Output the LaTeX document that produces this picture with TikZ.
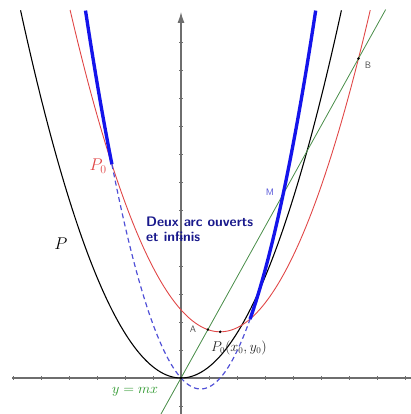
\documentclass[tikz,border=0pt]{standalone}
\usepackage{fontspec}
\usetikzlibrary{arrows.meta}
\definecolor{redc}{RGB}{225,70,70}
\definecolor{greenc}{RGB}{70,140,70}
\definecolor{greentext}{RGB}{40,150,40}
\definecolor{bluec}{RGB}{20,20,235}
\definecolor{bluedash}{RGB}{80,80,215}
\definecolor{navyc}{RGB}{25,25,140}
\definecolor{axisc}{RGB}{110,110,110}
\begin{document}
\begin{tikzpicture}[x=1cm,y=1cm,
  axisline/.style={draw=axisc,line width=1.1pt},
  tick/.style={draw=axisc,line width=0.7pt},
  curveP/.style={draw=black,line width=1.1pt},
  curvePzero/.style={draw=redc,line width=0.9pt},
  droite/.style={draw=greenc,line width=0.8pt},
  locthick/.style={draw=bluec,line width=3.4pt},
  locdash/.style={draw=bluedash,line width=1.2pt,dash pattern=on 5pt off 3.5pt},
  dot/.style={circle,fill=black,inner sep=0pt,minimum size=3pt},
  ptlabel/.style={font=\sffamily\fontsize{9.5}{11}\selectfont,text=black!70,inner sep=0pt}
]
\useasboundingbox (-6.464,-1.286) rectangle (8.214,13.5);
\fill[white] (-6.464,-1.286) rectangle (8.214,13.5);
% axes
\coordinate (xl) at (-6.04,0);
\coordinate (xr) at (8.214,0);
\coordinate (yb) at (0,-1.286);
\coordinate (yt) at (0,13.07);
\draw[axisline] (xl) -- (xr);
\draw[axisline,-{Latex[length=11pt,width=7pt]}] (yb) -- (yt);
\foreach \i in {-6,...,8} \draw[tick] (\i,-0.07) -- (\i,0.07);
\foreach \j in {-1,...,12} \draw[tick] (-0.07,\j) -- (0.07,\j);
% curves
\draw[curveP] plot[domain=-5.73:5.73,samples=200,smooth] (\x,{0.4*\x*\x});
\draw[curvePzero] plot[domain=-3.96:6.76,samples=200,smooth] (\x,{0.4*(\x-1.4)*(\x-1.4)+1.65});
\coordinate (gb) at (-0.714,-1.286);
\coordinate (gt) at (7.31,13.158);
\draw[droite] (gb) -- (gt);
\draw[locdash] plot[domain=-2.467:2.467,samples=150,smooth] (\x,{0.8*\x*(\x-1.4)});
\draw[locthick] plot[domain=-3.41:-2.467,samples=60,smooth] (\x,{0.8*\x*(\x-1.4)});
\draw[locthick] plot[domain=2.467:4.81,samples=100,smooth] (\x,{0.8*\x*(\x-1.4)});
% points
\node[dot] (O) at (0,0) {};
\node[dot] (A) at (0.96,1.728) {};
\node[dot] (Pz) at (1.4,1.65) {};
\node[dot] (B) at (6.34,11.41) {};
% labels
\node[ptlabel] (lA) at (0.43,1.75) {A};
\node[ptlabel] (lB) at (6.68,11.18) {B};
\node[ptlabel,text=bluedash] (lM) at (3.18,6.64) {M};
\node[inner sep=0pt,text=black!85,font=\fontsize{13.5}{16}\selectfont] (lPz) at (2.07,1.07) {$P_0(x_0,y_0)$};
\node[inner sep=0pt,text=redc,font=\fontsize{17}{20}\selectfont] (lPzero) at (-2.96,7.57) {$P_0$};
\node[inner sep=0pt,font=\fontsize{16}{19}\selectfont] (lP) at (-4.29,4.79) {$P$};
\node[inner sep=0pt,text=greentext,font=\fontsize{15}{18}\selectfont] (lD) at (-1.64,-0.5) {$y=mx$};
\node[inner sep=0pt,anchor=north west,align=left,text=navyc,font=\sffamily\bfseries\fontsize{14}{15.5}\selectfont] (txt) at (-1.25,5.77) {Deux arc ouverts\\et infinis};
\end{tikzpicture}
\end{document}
